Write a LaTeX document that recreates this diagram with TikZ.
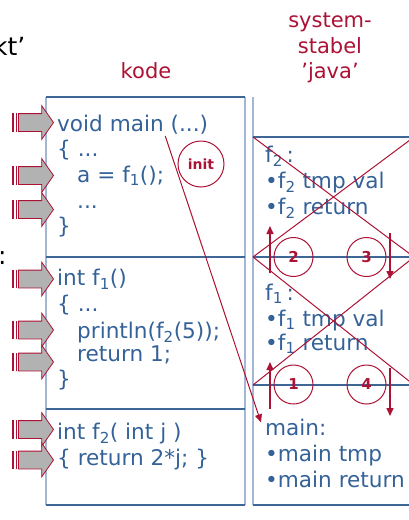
\documentclass[tikz,border=0pt]{standalone}
\usepackage{fontspec}
\setmainfont{DejaVu Sans}
\usepackage{tikz}
\usetikzlibrary{arrows.meta,positioning,shapes.arrows,calc}
\usepackage{xcolor}
\definecolor{codeblue}{RGB}{52,98,152}
\definecolor{frameblue}{RGB}{62,102,150}
\definecolor{paleblue}{RGB}{163,182,210}
\definecolor{stackred}{RGB}{172,18,52}

\begin{document}
\begin{tikzpicture}[
    x=1pt, y=-1pt,
    code/.style={anchor=base west, inner sep=0pt, text=codeblue, font=\fontsize{21.6}{25}\selectfont},
    heading/.style={anchor=base, inner sep=0pt, text=stackred, font=\fontsize{21}{25}\selectfont},
    callarrow/.style={single arrow, draw=stackred, fill=gray!60, line width=0.8pt, minimum height=35pt,
      minimum width=33pt, inner xsep=4pt, inner ysep=0pt, text height=17pt, text depth=0pt,
      single arrow head extend=8pt, single arrow tip angle=110, anchor=tip,
      append after command={
        ([xshift=-2pt]\tikzlastnode.before tail) edge[draw=stackred, line width=1.2pt] ([xshift=-2pt]\tikzlastnode.after tail)
        ([xshift=-5pt]\tikzlastnode.before tail) edge[draw=stackred, line width=2.4pt] ([xshift=-5pt]\tikzlastnode.after tail)}},
    badge/.style={circle, draw=stackred, line width=1pt, minimum size=39pt, inner sep=0pt, text=stackred, font=\fontsize{15}{15}\selectfont\bfseries},
    frameline/.style={draw=frameblue, line width=1.2pt},
    paleline/.style={draw=paleblue, line width=2.5pt},
    cross/.style={draw=stackred, line width=1pt},
    >={Triangle[length=8pt,width=7pt]}
  ]
  \useasboundingbox (0,0) rectangle (408,520);

  \draw[draw=paleblue, line width=1.2pt] (46,97) -- (46,505);
  \draw[paleline] (245,97) -- (245,505);
  \draw[paleline] (253,97) -- (253,505);
  \draw[frameline] (46,97) -- (245,97);
  \draw[frameline] (46,257) -- (245,257);
  \draw[frameline] (46,409) -- (245,409);
  \draw[frameline] (46,505) -- (245,505);
  \draw[frameline] (253,137) -- (420,137);
  \draw[frameline] (253,257) -- (420,257);
  \draw[frameline] (253,385) -- (420,385);
  \draw[frameline] (253,505) -- (420,505);

  \node[anchor=base east, inner sep=0pt, font=\fontsize{25}{30}\selectfont] (kt) at (25.5,55) {kt’};
  \node[anchor=base west, inner sep=0pt, font=\fontsize{25}{30}\selectfont] (colon) at (-2,264.5) {:};
  \node[heading] (kode) at (146,78) {kode};
  \node[heading] (sys1) at (330,27) {system-};
  \node[heading] (sys2) at (330,53) {stabel};
  \node[heading] (sys3) at (330,78) {’java’};

  \node[code] (m1) at (57,131) {void main (...)};
  \node[code] (m2) at (57,156) {\{ ...};
  \node[code] (m3) at (77,182) {a = f\textsubscript{1}();};
  \node[code] (m4) at (77,208) {...};
  \node[code] (m5) at (57,233) {\}};

  \node[code] (f1a) at (57,285.5) {int f\textsubscript{1}()};
  \node[code] (f1b) at (57,311.5) {\{ ...};
  \node[code] (f1c) at (77,338) {println(f\textsubscript{2}(5));};
  \node[code] (f1d) at (77,361.5) {return 1;};
  \node[code] (f1e) at (57,386) {\}};

  \node[code] (f2a) at (57,439) {int f\textsubscript{2}( int j )};
  \node[code] (f2b) at (57,465) {\{ return 2*j; \}};

  \node[code] (s2a) at (265,162.5) {f\textsubscript{2}\,:};
  \node[code] (s2b) at (265,188) {•f\textsubscript{2} tmp val};
  \node[code] (s2c) at (265,214) {•f\textsubscript{2} return};
  \node[code] (s1a) at (265,300) {f\textsubscript{1}\,:};
  \node[code] (s1b) at (265,326) {•f\textsubscript{1} tmp val};
  \node[code] (s1c) at (265,350) {•f\textsubscript{1} return};
  \node[code] (sm1) at (265,435) {main:};
  \node[code] (sm2) at (265,461) {•main tmp};
  \node[code] (sm3) at (265,487) {•main return};

  \node[callarrow] (call1) at (54,122.5) {};
  \node[callarrow] (call2) at (54,175.5) {};
  \node[callarrow] (call3) at (54,209.5) {};
  \node[callarrow] (call4) at (54,279) {};
  \node[callarrow] (call5) at (54,330) {};
  \node[callarrow] (call6) at (54,362) {};
  \node[callarrow] (call7) at (54,429.5) {};
  \node[callarrow] (call8) at (54,460) {};

  \draw[cross] (253,137) -- (414,257);
  \draw[cross] (253,257) -- (414,137);
  \draw[cross] (253,257) -- (414,385);
  \draw[cross] (253,385) -- (414,257);

  \node[badge, minimum size=46pt, font=\fontsize{14}{14}\selectfont\bfseries] (init) at (201,164) {init};
  \node[badge] (c2) at (293.5,257) {2};
  \node[badge] (c3) at (366.5,257) {3};
  \node[badge] (c1) at (293.5,384.5) {1};
  \node[badge] (c4) at (366.5,384.5) {4};

  \draw[->, stackred, line width=1.5pt] ($(c2.center)+(-23.5,16)$) -- ($(c2.center)+(-23.5,-31)$);
  \draw[->, stackred, line width=1.5pt] ($(c3.center)+(23.5,-24)$) -- ($(c3.center)+(23.5,22)$);
  \draw[->, stackred, line width=1.5pt] ($(c1.center)+(-23.5,24.5)$) -- ($(c1.center)+(-23.5,-22.5)$);
  \draw[->, stackred, line width=1.5pt] ($(c4.center)+(23.5,-16.5)$) -- ($(c4.center)+(23.5,31.5)$);
  \draw[->, stackred, line width=1pt] ([xshift=-43pt,yshift=-2pt]m1.south east) -- ([xshift=-4pt,yshift=-4pt]sm1.north west);
\end{tikzpicture}
\end{document}
